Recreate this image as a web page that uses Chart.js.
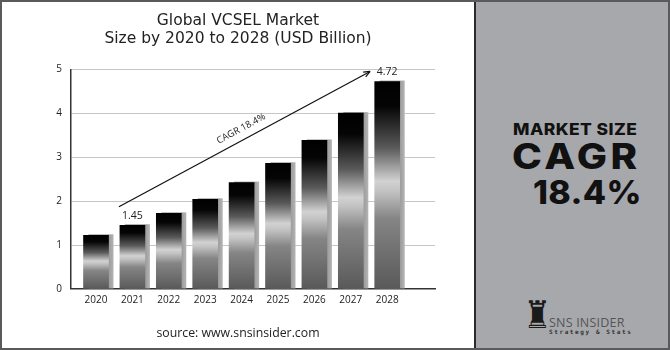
<!DOCTYPE html>
<html>
<head>
<meta charset="utf-8">
<script src="https://cdn.jsdelivr.net/npm/chart.js@4"></script>
<style>
  body { margin: 0; width: 670px; height: 350px; background: #fff; overflow: hidden; font-family: 'Open Sans', sans-serif; }
  #frame { position: absolute; left: 0; top: 0; width: 670px; height: 350px; box-sizing: border-box; border: 2px solid #5a5a5c; }
  #chartBox { position: absolute; left: 2px; top: 2px; width: 472px; height: 346px; }
  #side { position: absolute; left: 474px; top: 2px; width: 194px; height: 346px; background: #a7a8ac; border-left: 2px solid #2b2b2b; box-sizing: border-box; }
  .big { position: absolute; font-family: Inter, sans-serif; font-weight: 800; color: #111; white-space: nowrap; transform-origin: left top; }
  #mk { left: 37px; top: 117px; font-size: 16px; letter-spacing: 0.4px; transform: scaleX(1.09); }
  #cagr { left: 36px; top: 133px; font-size: 35px; letter-spacing: 3px; transform: scaleX(1.15); }
  #pct { left: 57px; top: 171px; font-size: 32px; letter-spacing: 0.3px; transform: scaleX(1.06); }
  #rook { position: absolute; left: 48px; top: 294px; font-family: 'DejaVu Sans'; font-size: 38px; color: #1a1a1a; line-height: 1; transform: scaleX(0.8); transform-origin: left top; }
  #sns { position: absolute; left: 73px; top: 312px; font-family: 'Open Sans', sans-serif; font-size: 12.5px; color: #555; letter-spacing: 0.2px; }
  #tag { position: absolute; left: 73px; top: 326px; font-family: 'DejaVu Sans Mono', monospace; font-weight: bold; font-size: 6px; color: #333; letter-spacing: 1.6px; }
</style>
</head>
<body>
<div id="frame"></div>
<div id="chartBox"><canvas id="vcsel"></canvas></div>
<div id="side">
  <div class="big" id="mk">MARKET SIZE</div>
  <div class="big" id="cagr">CAGR</div>
  <div class="big" id="pct">18.4%</div>
  <div id="rook">♜</div>
  <div id="sns">SNS INSIDER</div>
  <div id="tag">Strategy &amp; Stats</div>
</div>
<script>
const years = [2020, 2021, 2022, 2023, 2024, 2025, 2026, 2027, 2028];
const marketSize = [1.22, 1.45, 1.72, 2.04, 2.42, 2.86, 3.38, 4.00, 4.72];
const labelledYears = [2021, 2028];
const yTicks = [0, 1, 2, 3, 4, 5];
const cagrText = 'CAGR 18.4%';
// arrow ends, in data units
const arrowFrom = { x: 2020.63, y: 1.87 };
const arrowTo = { x: 2027.53, y: 4.95 };

function barGradient(c) {
  const chart = c.chart;
  if (!chart.chartArea || c.type !== 'data') return '#333';
  const ys = chart.scales.y;
  const top = ys.getPixelForValue(c.raw.y);
  const base = ys.getPixelForValue(0);
  const g = chart.ctx.createLinearGradient(0, top, 0, base);
  g.addColorStop(0, '#000');
  g.addColorStop(0.12, '#050505');
  g.addColorStop(0.32, '#5a5a5a');
  g.addColorStop(0.48, '#d2d2d2');
  g.addColorStop(0.53, '#c2c2c2');
  g.addColorStop(0.66, '#858585');
  g.addColorStop(1, '#595959');
  return g;
}

const decor = {
  id: 'decor',
  beforeDatasetsDraw(chart) {
    const ctx = chart.ctx;
    ctx.save();
    chart.getDatasetMeta(0).data.forEach(el => {
      const p = el.getProps(['x', 'y', 'base', 'width'], true);
      const g = ctx.createLinearGradient(p.x + p.width / 2, 0, p.x + p.width / 2 + 5, 0);
      g.addColorStop(0, '#9a9a9a');
      g.addColorStop(1, '#b4b4b4');
      ctx.fillStyle = g;
      ctx.fillRect(p.x - p.width / 2 + 5, p.y - 1, p.width, p.base - p.y + 1);
    });
    ctx.restore();
  },
  afterDatasetsDraw(chart) {
    const ctx = chart.ctx;
    const xs = chart.scales.x, ys = chart.scales.y;
    ctx.save();
    ctx.fillStyle = '#222';
    ctx.font = '10.5px "Open Sans"';
    ctx.textAlign = 'center';
    ctx.textBaseline = 'bottom';
    const meta = chart.getDatasetMeta(0);
    labelledYears.forEach(yr => {
      const i = years.indexOf(yr);
      const el = meta.data[i];
      ctx.fillText(marketSize[i].toFixed(2), el.x, el.y - 4);
    });
    // arrow
    const x1 = xs.getPixelForValue(arrowFrom.x), y1 = ys.getPixelForValue(arrowFrom.y);
    const x2 = xs.getPixelForValue(arrowTo.x), y2 = ys.getPixelForValue(arrowTo.y);
    const ang = Math.atan2(y2 - y1, x2 - x1);
    ctx.strokeStyle = '#111';
    ctx.lineWidth = 1.2;
    ctx.beginPath();
    ctx.moveTo(x1, y1);
    ctx.lineTo(x2, y2);
    ctx.stroke();
    ctx.beginPath();
    ctx.moveTo(x2, y2);
    ctx.lineTo(x2 - 7 * Math.cos(ang - 0.4), y2 - 7 * Math.sin(ang - 0.4));
    ctx.moveTo(x2, y2);
    ctx.lineTo(x2 - 7 * Math.cos(ang + 0.4), y2 - 7 * Math.sin(ang + 0.4));
    ctx.stroke();
    // cagr label along the arrow
    ctx.translate((x1 + x2) / 2, (y1 + y2) / 2);
    ctx.rotate(ang);
    ctx.font = '9.5px "Open Sans"';
    ctx.textBaseline = 'alphabetic';
    ctx.fillText(cagrText, 2, -8);
    ctx.restore();
  }
};

new Chart(document.getElementById('vcsel'), {
  type: 'bar',
  data: {
    datasets: [{
      data: years.map((yr, i) => ({ x: yr, y: marketSize[i] })),
      backgroundColor: barGradient,
      barThickness: 25,
      borderWidth: 0
    }]
  },
  options: {
    responsive: true,
    maintainAspectRatio: false,
    animation: false,
    layout: { autoPadding: false, padding: 0 },
    plugins: {
      legend: { display: false },
      tooltip: { enabled: false },
      title: {
        display: true,
        text: ['Global VCSEL Market', 'Size by 2020 to 2028 (USD Billion)'],
        color: '#222',
        font: { family: 'DejaVu Sans', size: 15.5, weight: 'normal', lineHeight: 1.17 },
        padding: { top: 10, bottom: 21 }
      },
      subtitle: {
        display: true,
        position: 'bottom',
        text: 'source: www.snsinsider.com',
        color: '#222',
        font: { family: 'Open Sans', size: 12.3, lineHeight: 1.2 },
        padding: { top: 15.3, bottom: 7 }
      }
    },
    scales: {
      x: {
        type: 'linear',
        offset: false,
        min: 2019.313,
        max: 2029.313,
        afterBuildTicks: s => { s.ticks = years.map(v => ({ value: v })); },
        afterFit: s => { s.paddingLeft = 0; s.paddingRight = 0; },
        ticks: { callback: v => String(v), color: '#222', font: { family: 'Open Sans', size: 10 }, padding: 5, maxRotation: 0, autoSkip: false },
        grid: { display: false, offset: false, drawTicks: false },
        border: { color: '#333', width: 1.5 }
      },
      y: {
        min: 0,
        max: 5,
        afterBuildTicks: s => { s.ticks = yTicks.map(v => ({ value: v })); },
        afterFit: s => { s.width = 69; s.paddingTop = 0; s.paddingBottom = 0; },
        ticks: { color: '#222', font: { family: 'Open Sans', size: 10 }, padding: 9 },
        grid: { color: '#c6c6c6', lineWidth: 1, drawTicks: false },
        border: { color: '#333', width: 1.5 }
      },
      // empty strip on the right so the gridlines stop short of the divider
      pad: {
        position: 'right',
        min: 0,
        max: 5,
        afterFit: s => { s.width = 39; s.paddingTop = 0; s.paddingBottom = 0; },
        ticks: { display: false },
        grid: { display: false, drawTicks: false },
        border: { display: false }
      }
    }
  },
  plugins: [decor]
});
</script>
</body>
</html>
